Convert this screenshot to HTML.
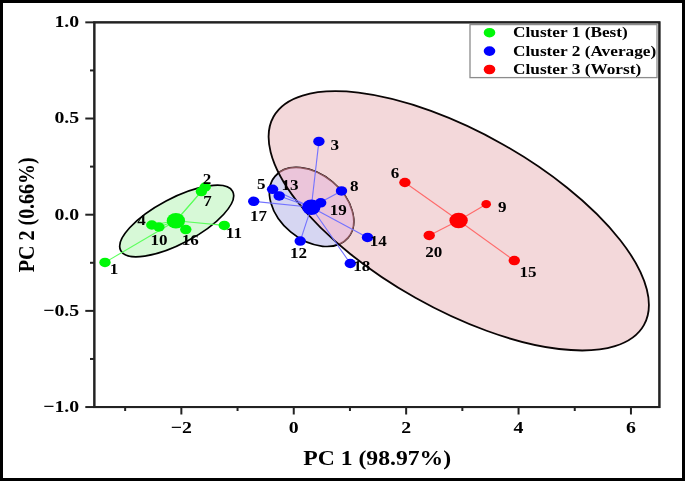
<!DOCTYPE html>
<html><head><meta charset="utf-8"><style>
html,body{margin:0;padding:0;background:#fff;}
#f{position:relative;width:685px;height:481px;box-sizing:border-box;border:3px solid #000;overflow:hidden;}
svg{position:absolute;left:-3px;top:-3px;will-change:transform;}
text{font-family:"Liberation Serif",serif;font-weight:bold;fill:#000;}
</style></head><body><div id="f">
<svg width="685" height="481" viewBox="0 0 685 481">
<defs><clipPath id="rc"><ellipse cx="0" cy="0" rx="212.5" ry="88.3" transform="translate(458.75,220.85) rotate(29.4)" /></clipPath></defs>
<ellipse cx="0" cy="0" rx="63.3" ry="22.66" transform="translate(176.7,221.0) rotate(-27.9)" fill="#d7f9d7" stroke="#000" stroke-width="1.7"/>
<ellipse cx="0" cy="0" rx="212.5" ry="88.3" transform="translate(458.75,220.85) rotate(29.4)" fill="#f3d8da"/>
<ellipse cx="0" cy="0" rx="47.67" ry="32.58" transform="translate(311.54,206.98) rotate(39.94)" fill="#d6d6f2" stroke="#000" stroke-width="1.7"/>
<g clip-path="url(#rc)"><ellipse cx="0" cy="0" rx="47.67" ry="32.58" transform="translate(311.54,206.98) rotate(39.94)" fill="#ebc5da" stroke="#8a555b" stroke-width="1.5"/></g>
<ellipse cx="0" cy="0" rx="212.5" ry="88.3" transform="translate(458.75,220.85) rotate(29.4)" fill="none" stroke="#0a0505" stroke-width="1.8"/>
<line x1="175.9" y1="220.8" x2="105" y2="262.4" stroke="#5cff5c" stroke-width="1.1"/>
<line x1="175.9" y1="220.8" x2="205.2" y2="187.0" stroke="#5cff5c" stroke-width="1.1"/>
<line x1="175.9" y1="220.8" x2="201.4" y2="191.6" stroke="#5cff5c" stroke-width="1.1"/>
<line x1="175.9" y1="220.8" x2="151.8" y2="225.0" stroke="#5cff5c" stroke-width="1.1"/>
<line x1="175.9" y1="220.8" x2="158.9" y2="227.0" stroke="#5cff5c" stroke-width="1.1"/>
<line x1="175.9" y1="220.8" x2="185.8" y2="229.6" stroke="#5cff5c" stroke-width="1.1"/>
<line x1="175.9" y1="220.8" x2="224.3" y2="225.4" stroke="#5cff5c" stroke-width="1.1"/>
<ellipse cx="105" cy="262.4" rx="5.7" ry="4.75" fill="#00f808"/>
<ellipse cx="205.2" cy="187.0" rx="5.7" ry="4.75" fill="#00f808"/>
<ellipse cx="201.4" cy="191.6" rx="5.7" ry="4.75" fill="#00f808"/>
<ellipse cx="151.8" cy="225.0" rx="5.7" ry="4.75" fill="#00f808"/>
<ellipse cx="158.9" cy="227.0" rx="5.7" ry="4.75" fill="#00f808"/>
<ellipse cx="185.8" cy="229.6" rx="5.7" ry="4.75" fill="#00f808"/>
<ellipse cx="224.3" cy="225.4" rx="5.7" ry="4.75" fill="#00f808"/>
<ellipse cx="175.9" cy="220.8" rx="9.2" ry="7.8" fill="#00f808"/>
<line x1="311.3" y1="207.3" x2="318.9" y2="141.4" stroke="#7272ff" stroke-width="1.1"/>
<line x1="311.3" y1="207.3" x2="341.5" y2="190.9" stroke="#7272ff" stroke-width="1.1"/>
<line x1="311.3" y1="207.3" x2="272.6" y2="189.3" stroke="#7272ff" stroke-width="1.1"/>
<line x1="311.3" y1="207.3" x2="279.2" y2="195.9" stroke="#7272ff" stroke-width="1.1"/>
<line x1="311.3" y1="207.3" x2="253.7" y2="201.3" stroke="#7272ff" stroke-width="1.1"/>
<line x1="311.3" y1="207.3" x2="320.7" y2="202.8" stroke="#7272ff" stroke-width="1.1"/>
<line x1="311.3" y1="207.3" x2="300.2" y2="241.1" stroke="#7272ff" stroke-width="1.1"/>
<line x1="311.3" y1="207.3" x2="367.5" y2="237.4" stroke="#7272ff" stroke-width="1.1"/>
<line x1="311.3" y1="207.3" x2="350.3" y2="263.5" stroke="#7272ff" stroke-width="1.1"/>
<ellipse cx="318.9" cy="141.4" rx="5.7" ry="4.75" fill="#0000ff"/>
<ellipse cx="341.5" cy="190.9" rx="5.7" ry="4.75" fill="#0000ff"/>
<ellipse cx="272.6" cy="189.3" rx="5.7" ry="4.75" fill="#0000ff"/>
<ellipse cx="279.2" cy="195.9" rx="5.7" ry="4.75" fill="#0000ff"/>
<ellipse cx="253.7" cy="201.3" rx="5.7" ry="4.75" fill="#0000ff"/>
<ellipse cx="320.7" cy="202.8" rx="5.7" ry="4.75" fill="#0000ff"/>
<ellipse cx="300.2" cy="241.1" rx="5.7" ry="4.75" fill="#0000ff"/>
<ellipse cx="367.5" cy="237.4" rx="5.7" ry="4.75" fill="#0000ff"/>
<ellipse cx="350.3" cy="263.5" rx="5.7" ry="4.75" fill="#0000ff"/>
<ellipse cx="311.3" cy="207.3" rx="9.2" ry="7.8" fill="#0000ff"/>
<line x1="458.6" y1="220.5" x2="404.9" y2="182.5" stroke="#ff6a6a" stroke-width="1.1"/>
<line x1="458.6" y1="220.5" x2="486.2" y2="204.2" stroke="#ff6a6a" stroke-width="1.1"/>
<line x1="458.6" y1="220.5" x2="429.2" y2="235.4" stroke="#ff6a6a" stroke-width="1.1"/>
<line x1="458.6" y1="220.5" x2="514.3" y2="260.6" stroke="#ff6a6a" stroke-width="1.1"/>
<ellipse cx="404.9" cy="182.5" rx="5.7" ry="4.75" fill="#ff0000"/>
<ellipse cx="486.2" cy="204.2" rx="4.8" ry="4.1" fill="#ff0000"/>
<ellipse cx="429.2" cy="235.4" rx="5.7" ry="4.75" fill="#ff0000"/>
<ellipse cx="514.3" cy="260.6" rx="5.7" ry="4.75" fill="#ff0000"/>
<ellipse cx="458.6" cy="220.5" rx="9.2" ry="7.8" fill="#ff0000"/>
<text transform="translate(114.10,273.80) scale(1.1,1)" font-size="15.5" text-anchor="middle">1</text>
<text transform="translate(207.10,184.20) scale(1.1,1)" font-size="15.5" text-anchor="middle">2</text>
<text transform="translate(207.60,205.50) scale(1.1,1)" font-size="15.5" text-anchor="middle">7</text>
<text transform="translate(141.45,225.20) scale(1.1,1)" font-size="15.5" text-anchor="middle">4</text>
<text transform="translate(158.95,245.10) scale(1.1,1)" font-size="15.5" text-anchor="middle">10</text>
<text transform="translate(190.35,245.30) scale(1.1,1)" font-size="15.5" text-anchor="middle">16</text>
<text transform="translate(233.90,238.10) scale(1.1,1)" font-size="15.5" text-anchor="middle">11</text>
<text transform="translate(334.85,149.90) scale(1.1,1)" font-size="15.5" text-anchor="middle">3</text>
<text transform="translate(354.30,190.60) scale(1.1,1)" font-size="15.5" text-anchor="middle">8</text>
<text transform="translate(261.35,189.30) scale(1.1,1)" font-size="15.5" text-anchor="middle">5</text>
<text transform="translate(290.10,190.00) scale(1.1,1)" font-size="15.5" text-anchor="middle">13</text>
<text transform="translate(258.55,221.40) scale(1.1,1)" font-size="15.5" text-anchor="middle">17</text>
<text transform="translate(338.35,215.10) scale(1.1,1)" font-size="15.5" text-anchor="middle">19</text>
<text transform="translate(298.60,258.40) scale(1.1,1)" font-size="15.5" text-anchor="middle">12</text>
<text transform="translate(378.35,245.90) scale(1.1,1)" font-size="15.5" text-anchor="middle">14</text>
<text transform="translate(361.70,271.20) scale(1.1,1)" font-size="15.5" text-anchor="middle">18</text>
<text transform="translate(394.95,178.30) scale(1.1,1)" font-size="15.5" text-anchor="middle">6</text>
<text transform="translate(502.20,211.70) scale(1.1,1)" font-size="15.5" text-anchor="middle">9</text>
<text transform="translate(433.70,256.60) scale(1.1,1)" font-size="15.5" text-anchor="middle">20</text>
<text transform="translate(528.05,276.50) scale(1.1,1)" font-size="15.5" text-anchor="middle">15</text>
<rect x="94.35" y="22.35" width="565.05" height="384.7" fill="none" stroke="#222" stroke-width="2"/>
<line x1="85.3" y1="22.35" x2="94.35" y2="22.35" stroke="#222" stroke-width="2"/>
<text transform="translate(79.20,27.15) scale(1.145,1)" font-size="17.3" text-anchor="end">1.0</text>
<line x1="85.3" y1="118.52" x2="94.35" y2="118.52" stroke="#222" stroke-width="2"/>
<text transform="translate(79.20,123.32) scale(1.145,1)" font-size="17.3" text-anchor="end">0.5</text>
<line x1="85.3" y1="214.70" x2="94.35" y2="214.70" stroke="#222" stroke-width="2"/>
<text transform="translate(79.20,219.50) scale(1.145,1)" font-size="17.3" text-anchor="end">0.0</text>
<line x1="85.3" y1="310.88" x2="94.35" y2="310.88" stroke="#222" stroke-width="2"/>
<text transform="translate(79.20,315.68) scale(1.145,1)" font-size="17.3" text-anchor="end">−0.5</text>
<line x1="85.3" y1="407.05" x2="94.35" y2="407.05" stroke="#222" stroke-width="2"/>
<text transform="translate(79.20,411.85) scale(1.145,1)" font-size="17.3" text-anchor="end">−1.0</text>
<line x1="90" y1="70.44" x2="94.35" y2="70.44" stroke="#222" stroke-width="2"/>
<line x1="90" y1="166.61" x2="94.35" y2="166.61" stroke="#222" stroke-width="2"/>
<line x1="90" y1="262.79" x2="94.35" y2="262.79" stroke="#222" stroke-width="2"/>
<line x1="90" y1="358.96" x2="94.35" y2="358.96" stroke="#222" stroke-width="2"/>
<line x1="181.35" y1="407.05" x2="181.35" y2="414.5" stroke="#222" stroke-width="2"/>
<text transform="translate(181.35,432.80) scale(1.145,1)" font-size="17.3" text-anchor="middle">−2</text>
<line x1="293.75" y1="407.05" x2="293.75" y2="414.5" stroke="#222" stroke-width="2"/>
<text transform="translate(293.75,432.80) scale(1.145,1)" font-size="17.3" text-anchor="middle">0</text>
<line x1="406.15" y1="407.05" x2="406.15" y2="414.5" stroke="#222" stroke-width="2"/>
<text transform="translate(406.15,432.80) scale(1.145,1)" font-size="17.3" text-anchor="middle">2</text>
<line x1="518.55" y1="407.05" x2="518.55" y2="414.5" stroke="#222" stroke-width="2"/>
<text transform="translate(518.55,432.80) scale(1.145,1)" font-size="17.3" text-anchor="middle">4</text>
<line x1="630.95" y1="407.05" x2="630.95" y2="414.5" stroke="#222" stroke-width="2"/>
<text transform="translate(630.95,432.80) scale(1.145,1)" font-size="17.3" text-anchor="middle">6</text>
<line x1="125.15" y1="407.05" x2="125.15" y2="411.0" stroke="#222" stroke-width="2"/>
<line x1="237.55" y1="407.05" x2="237.55" y2="411.0" stroke="#222" stroke-width="2"/>
<line x1="349.95" y1="407.05" x2="349.95" y2="411.0" stroke="#222" stroke-width="2"/>
<line x1="462.35" y1="407.05" x2="462.35" y2="411.0" stroke="#222" stroke-width="2"/>
<line x1="574.75" y1="407.05" x2="574.75" y2="411.0" stroke="#222" stroke-width="2"/>
<text transform="translate(377.20,465.00) scale(1.185,1)" font-size="20" text-anchor="middle">PC 1 (98.97%)</text>
<text transform="translate(33.8,214.7) scale(1.2,1) rotate(-90)" font-size="20" text-anchor="middle">PC 2 (0.66%)</text>
<rect x="470" y="24.6" width="187.0" height="53.0" fill="#fff" stroke="#8c8c8c" stroke-width="1.3"/>
<rect x="94.35" y="22.35" width="565.05" height="384.7" fill="none" stroke="#222" stroke-width="2"/>
<ellipse cx="489.5" cy="32.7" rx="5.8" ry="4.8" fill="#00f808"/>
<text transform="translate(513.00,37.30) scale(1.115,1)" font-size="15.5" text-anchor="start">Cluster 1 (Best)</text>
<ellipse cx="489.5" cy="51.1" rx="5.8" ry="4.8" fill="#0000ff"/>
<text transform="translate(513.00,55.70) scale(1.115,1)" font-size="15.5" text-anchor="start">Cluster 2 (Average)</text>
<ellipse cx="489.5" cy="69.5" rx="5.8" ry="4.8" fill="#ff0000"/>
<text transform="translate(513.00,74.10) scale(1.115,1)" font-size="15.5" text-anchor="start">Cluster 3 (Worst)</text>
</svg></div></body></html>
